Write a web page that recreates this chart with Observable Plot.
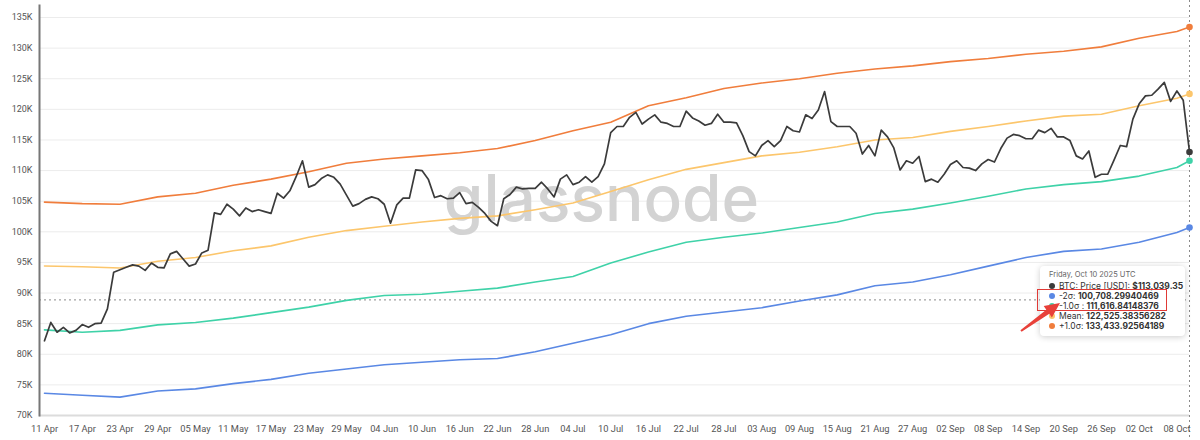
<!DOCTYPE html>
<html>
<head>
<meta charset="utf-8">
<script src="https://cdn.jsdelivr.net/npm/d3@7"></script>
<script src="https://cdn.jsdelivr.net/npm/@observablehq/plot@0.6"></script>
<style>
  body { margin: 0; background: #fff; font-family: Inter, "Noto Sans", sans-serif; }
  #wrap { position: relative; width: 1200px; height: 440px; }
  #tip { position: absolute; width: 128px; background: #fff; border-radius: 4px;
         box-shadow: 0 1px 6px rgba(0,0,0,0.2); padding: 4px 8px 5px 9px;
         font-size: 8.5px; line-height: 10px; color: #333; white-space: nowrap; }
  #tip .hd { color: #666; font-size: 7.5px; margin-bottom: 1px; }
  #tip .row { display: flex; align-items: center; }
  #tip .dot { width: 6px; height: 6px; border-radius: 50%; margin-right: 4px; flex: none; }
  #tip b { font-weight: 700; }
  #box { position: absolute; border: 1.5px solid #e03a36; box-sizing: border-box; }
  #arrow { position: absolute; }
</style>
</head>
<body>
<div id="wrap"></div>
<script>
// ---- data ----
const startDate = "2025-04-11";
const endDate = "2025-10-10";
// BTC daily price (USD), 11 Apr .. 10 Oct 2025
const price = [82200,85200,83600,84400,83500,83900,84850,84400,85000,85100,
 87400,93400,93800,94200,94600,94400,93700,94900,94200,94100,
 96400,96800,95600,94400,94750,96550,97000,103100,102850,104500,
 103700,102600,103900,103300,103600,103300,103000,106300,105500,106700,
 109000,111600,107300,107700,108700,109300,108900,107800,106000,104200,
 104600,105300,105700,105400,104500,101400,104400,105500,105500,110100,
 110000,108600,105600,105900,105400,105500,106400,104600,104800,104000,
 103000,101700,101000,105400,106100,107300,107000,107100,107100,108100,
 107000,105700,108600,109300,107700,108100,109000,108100,109000,111100,
 116200,117200,117200,118700,119500,117600,118400,119100,117900,117700,
 117200,117200,119700,118600,118100,117400,117700,119200,117900,117900,
 117800,115700,113100,112400,114100,114900,113900,114900,117200,116500,
 116300,119100,118500,119900,122900,118000,117200,117200,117200,116100,
 112700,114100,112400,116600,115500,113700,110100,111600,111200,112300,
 108200,108600,108100,109400,111000,111600,110500,110400,110000,111100,
 111800,111400,113600,115300,115900,115700,115200,115200,116600,116200,
 116900,115500,115500,114900,112400,111900,113200,108900,109400,109400,
 111700,114100,113900,118400,120900,122200,122300,123300,124400,121300,
 123000,121500,113039.35];

// x tick dates (labels) — band values are read at these dates plus 10 Oct
const tickDates = ["2025-04-11","2025-04-17","2025-04-23","2025-04-29","2025-05-05","2025-05-11",
 "2025-05-17","2025-05-23","2025-05-29","2025-06-04","2025-06-10","2025-06-16","2025-06-22",
 "2025-06-28","2025-07-04","2025-07-10","2025-07-16","2025-07-22","2025-07-28","2025-08-03",
 "2025-08-09","2025-08-15","2025-08-21","2025-08-27","2025-09-02","2025-09-08","2025-09-14",
 "2025-09-20","2025-09-26","2025-10-02","2025-10-08"];
const bandDateStrings = [...tickDates, "2025-10-10"];

const plus1Sigma = [104850,104600,104500,105700,106300,107600,108600,109800,111200,111900,112400,112900,
 113600,114900,116500,117900,120600,121900,123400,124300,125000,125900,126600,127100,127800,128300,
 129000,129500,130200,131600,132700,133433.93];
const meanBand = [94420,94300,94100,95200,95800,96900,97700,99100,100200,100900,101600,102200,102600,
 103600,104700,106600,108500,110200,111300,112400,113000,113900,115000,115400,116400,117200,118100,
 118900,119200,120600,121800,122525.38];
const minus1Sigma = [83980,83600,83900,84800,85200,85900,86800,87700,88800,89600,89800,90300,90800,
 91800,92700,94900,96700,98300,99100,99800,100700,101600,103000,103700,104700,105800,107000,107700,
 108200,109100,110500,111616.84];
const minus2Sigma = [73640,73300,73000,74000,74350,75200,75900,76900,77600,78300,78700,79100,79300,
 80400,81800,83200,85000,86200,86900,87600,88700,89700,91200,91800,93000,94400,95800,96800,97200,
 98300,99900,100708.30];

const yTicks = [70000,75000,80000,85000,90000,95000,100000,105000,110000,115000,120000,125000,130000,135000];
const crosshairDate = ["2025-10-10"];
const crosshairValue = [88880];

const colors = { price: "#3b3b3b", plus1: "#f07d3c", mean: "#fcc66c", minus1: "#3fd2a8", minus2: "#5a88e4" };

// ---- tables ----
const parse = s => new Date(s + "T00:00:00Z");
const start = parse(startDate), end = parse(endDate);
const priceData = price.map((v, i) => ({ date: d3.utcDay.offset(start, i), value: v }));
const bandDates = bandDateStrings.map(parse);
const band = vals => vals.map((v, i) => ({ date: bandDates[i], value: v }));
const series = [
  { key: "minus2", data: band(minus2Sigma) },
  { key: "minus1", data: band(minus1Sigma) },
  { key: "mean", data: band(meanBand) },
  { key: "plus1", data: band(plus1Sigma) }
];
const lastPoints = [
  ...series.map(s => ({ ...s.data[s.data.length - 1], key: s.key })),
  { ...priceData[priceData.length - 1], key: "price" }
];

const axisFont = "Roboto, 'Noto Sans', sans-serif";
const plot = Plot.plot({
  width: 1200, height: 440,
  marginTop: 5, marginLeft: 39, marginRight: 11, marginBottom: 25,
  insetTop: 12, insetLeft: 5,
  style: { fontFamily: axisFont, background: "transparent", color: "#555" },
  x: { type: "utc", domain: [start, end] },
  y: { domain: [70000, 135000] },
  marks: [
    Plot.gridY(yTicks, { stroke: "#ececec", strokeOpacity: 1 }),
    Plot.text(["glassnode"], { frameAnchor: "middle", dx: -13, dy: -10, fontSize: 64, fontWeight: 500,
      fontFamily: "Inter, 'Noto Sans', sans-serif", fill: "#d3d3d3" }),
    Plot.ruleY([70000], { stroke: "#dcdcdc", strokeWidth: 2 }),
    Plot.ruleY(crosshairValue, { stroke: "#8a8a8a", strokeDasharray: "2,3", strokeWidth: 1 }),
    Plot.ruleX(crosshairDate.map(parse), { stroke: "#8a8a8a", strokeDasharray: "2,3", strokeWidth: 1, insetTop: -5, insetBottom: -25 }),
    ...series.map(s => Plot.line(s.data, { x: "date", y: "value", stroke: colors[s.key], strokeWidth: 1.6 })),
    Plot.line(priceData, { x: "date", y: "value", stroke: colors.price, strokeWidth: 1.7 }),
    Plot.dot(lastPoints, { x: "date", y: "value", r: 3.3, fill: d => colors[d.key], stroke: "none" }),
    Plot.frame({ anchor: "left", stroke: "#777", strokeWidth: 2 }),
    Plot.axisY({ ticks: yTicks, tickFormat: d => d / 1000 + "K", tickSize: 0, tickPadding: 7, fontSize: 9, label: null }),
    Plot.axisX({ ticks: tickDates.map(parse), tickFormat: d3.utcFormat("%d %b"), tickSize: 0, tickPadding: 10, fontSize: 9.3, label: null })
  ]
});

const wrap = document.getElementById("wrap");
wrap.appendChild(plot);

// ---- tooltip overlay anchored on crosshair ----
const xs = plot.scale("x"), ys = plot.scale("y");
const cx = xs.apply(parse(crosshairDate[0])), cy = ys.apply(crosshairValue[0]);
const tipLeft = cx - 149, tipTop = cy - 33;

const rows = [
  { c: colors.price, label: "BTC: Price [USD]: ", val: "$" + d3.format(",.2f")(price[price.length - 1]) },
  { c: colors.minus2, label: "-2σ: ", val: "100,708.29940469" },
  { c: colors.minus1, label: "-1.0σ : ", val: "111,616.84148376" },
  { c: colors.mean, label: "Mean: ", val: "122,525.38356282" },
  { c: colors.plus1, label: "+1.0σ: ", val: "133,433.92564189" }
];
const tip = document.createElement("div");
tip.id = "tip";
tip.style.left = tipLeft + "px";
tip.style.top = tipTop + "px";
tip.innerHTML = `<div class="hd">Friday, Oct 10 2025 UTC</div>` +
  rows.map(r => `<div class="row"><span class="dot" style="background:${r.c}"></span><span>${r.label}<b>${r.val}</b></span></div>`).join("");
wrap.appendChild(tip);

const box = document.createElement("div");
box.id = "box";
Object.assign(box.style, { left: (tipLeft - 3) + "px", top: (tipTop + 23) + "px", width: "130px", height: "22px" });
wrap.appendChild(box);

const arrow = document.createElementNS("http://www.w3.org/2000/svg", "svg");
arrow.setAttribute("id", "arrow");
arrow.setAttribute("width", "50");
arrow.setAttribute("height", "40");
arrow.style.left = (tipLeft - 25) + "px";
arrow.style.top = (tipTop + 32) + "px";
arrow.innerHTML = `<polygon points="5.4,32.2 31.3,11.7 28.7,8.0 45,5 36.9,19.4 34.3,15.7 6.6,33.8" fill="#e8413a"/>`;
wrap.appendChild(arrow);
</script>
</body>
</html>
